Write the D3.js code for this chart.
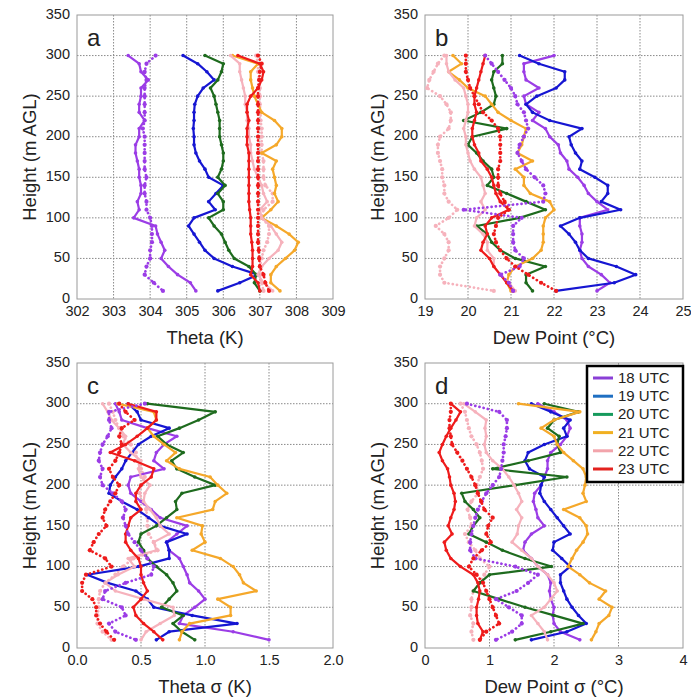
<!DOCTYPE html>
<html>
<head>
<meta charset="utf-8">
<script src="https://cdn.jsdelivr.net/npm/d3@7"></script>
<style>
  body { margin: 0; background: #fff; }
  svg { display: block; }
  text { font-family: "Liberation Sans", Arial, Helvetica, sans-serif; fill: #222; }
</style>
</head>
<body>
<svg id="chart" width="691" height="697"></svg>
<script>
// Measurement heights (m AGL), top to bottom
const heights = [300,290,280,270,260,250,240,230,220,210,200,190,180,170,160,150,140,130,120,110,100,90,80,70,60,50,40,30,20,10];

const timeLabels = ["18 UTC","19 UTC","20 UTC","21 UTC","22 UTC","23 UTC"];
const lineColors = ["#9b3de6","#1616d2","#1e6b1e","#f5a82a","#f6b2bc","#ee1b1b"];
const legendColors = ["#8a3fd6","#1f6fc2","#169a5c","#f1b021","#f2a4ab","#e3221e"];

// Potential temperature (K), solid profiles
const theta18 = [303.4,303.7,303.75,303.95,303.75,303.75,303.7,303.7,303.85,303.7,303.7,303.6,303.6,303.65,303.7,303.7,303.75,303.75,303.65,303.7,303.55,304.15,304.2,304.3,304.4,304.3,304.5,304.75,305.1,305.25];
const theta19 = [304.9,305.3,305.55,305.75,305.45,305.3,305.22,305.2,305.2,305.18,305.2,305.2,305.25,305.35,305.5,305.6,306.0,305.8,305.6,305.78,305.2,305.05,305.2,305.35,305.5,305.75,306.25,306.95,306.45,305.85];
const theta20 = [305.5,306.0,305.95,305.85,305.65,305.75,305.8,305.85,305.9,305.9,305.9,305.95,306.0,306.0,305.95,305.85,306.05,305.85,306.0,306.0,305.6,305.75,305.95,306.05,306.15,306.3,306.7,306.9,306.85,307.0];
const theta21 = [306.25,306.95,306.75,306.75,306.8,306.85,306.95,307.05,307.4,307.6,307.6,307.45,307.05,307.45,307.35,307.4,307.45,307.4,307.5,307.3,307.05,307.45,307.8,308.05,307.95,307.7,307.45,307.3,307.3,307.55];
const theta22 = [306.2,306.45,306.45,306.5,306.55,306.6,306.6,306.65,306.65,306.7,306.7,306.75,306.75,306.8,306.85,306.95,307.05,307.1,307.2,307.0,307.05,307.3,307.45,307.6,307.5,307.25,307.05,306.95,307.1,307.35];
const theta23 = [306.4,307.0,307.1,307.05,306.95,306.75,306.65,306.65,306.7,306.65,306.65,306.65,306.7,306.7,306.7,306.7,306.7,306.7,306.7,306.72,306.75,306.75,306.75,306.78,306.8,306.8,306.8,306.75,306.95,307.0];
// Potential temperature (K), dotted profiles
const theta18d = [304.15,303.9,303.85,303.9,303.85,303.85,303.85,303.85,303.85,303.8,303.85,303.85,303.85,303.85,303.85,303.9,303.85,303.85,303.9,303.9,304.0,304.05,304.05,304.05,304.0,304.0,303.9,303.85,304.1,304.35];
const theta22d = [306.9,306.95,306.95,306.98,307.0,307.0,307.0,307.02,307.02,307.05,307.05,307.05,307.05,307.1,307.1,307.1,307.15,307.35,307.35,307.1,307.05,307.25,307.25,307.2,307.1,307.05,307.0,307.0,307.05,307.1];
const theta23d = [306.95,307.05,307.0,306.98,306.95,306.95,306.95,306.95,306.95,306.95,306.95,306.95,306.95,306.95,306.95,306.95,306.95,306.95,306.95,306.95,306.95,306.95,306.95,306.95,306.97,306.98,307.0,307.1,307.15,307.25];

// Dew point (°C), solid profiles
const dew18 = [22.0,21.3,21.3,21.35,21.65,21.3,21.35,21.65,21.5,21.8,21.9,22.1,22.15,22.3,22.35,22.55,22.7,22.8,23.0,23.25,22.6,22.6,22.65,22.65,22.6,22.65,22.8,23.1,23.3,23.0];
const dew19 = [21.2,21.65,22.25,22.25,22.05,21.6,21.35,21.5,21.9,22.65,22.35,22.4,22.5,22.65,22.6,22.95,23.25,23.25,23.1,23.55,22.6,22.15,22.35,22.5,22.6,22.8,23.45,23.9,23.4,22.05];
const dew20 = [20.8,20.8,20.6,20.55,20.6,20.65,20.6,20.3,19.9,20.9,20.1,20.0,20.2,20.35,20.55,20.6,20.45,20.9,21.35,21.8,21.2,20.2,20.45,20.55,20.75,21.1,21.8,21.35,21.35,21.5];
const dew21 = [19.65,19.85,19.55,19.8,20.0,20.4,20.55,20.7,21.0,21.35,21.3,21.25,21.15,21.5,21.1,21.3,21.3,21.45,21.9,22.0,21.8,21.75,21.75,21.75,21.7,21.5,21.1,20.95,20.9,21.0];
const dew22 = [19.5,19.5,19.55,19.7,19.9,19.95,20.0,20.0,19.95,19.9,19.95,19.95,20.0,20.05,20.15,20.3,20.35,20.4,20.3,20.4,20.2,20.15,20.35,20.45,20.45,20.6,20.6,20.75,20.95,21.1];
const dew23 = [20.4,20.35,20.3,20.25,20.2,20.15,20.15,20.2,20.15,20.1,20.1,20.15,20.25,20.3,20.45,20.55,20.6,20.65,20.75,20.95,20.55,20.4,20.45,20.35,20.3,20.5,20.6,20.75,20.9,21.05];
// Dew point (°C), dotted profiles
const dew18d = [20.4,20.55,20.7,20.85,21.0,21.1,21.15,21.3,21.35,21.4,21.3,21.2,21.15,21.25,21.35,21.55,21.75,21.8,21.75,19.9,21.25,21.05,21.05,21.05,21.1,21.3,21.2,20.75,20.95,21.05];
const dew22d = [19.45,19.3,19.2,19.1,19.05,19.35,19.5,19.6,19.6,19.55,19.35,19.3,19.3,19.35,19.4,19.4,19.45,19.45,19.55,19.75,19.55,19.25,19.45,19.55,19.55,19.45,19.35,19.35,19.45,20.6];
const dew23d = [19.95,19.95,19.95,20.0,20.05,20.15,20.25,20.35,20.55,20.7,20.75,20.75,20.75,20.75,20.7,20.7,20.7,20.75,20.85,20.95,20.7,20.65,20.6,20.65,20.75,20.9,21.1,21.4,21.7,22.05];

// Potential temperature standard deviation (K), solid profiles
const thetaSd18 = [0.3,0.33,0.35,0.55,0.78,0.68,0.62,0.6,0.68,0.42,0.4,0.42,0.5,0.58,0.65,0.86,0.78,0.7,0.72,0.8,0.83,0.86,0.88,0.95,1.0,0.92,0.83,0.8,1.22,1.5];
const thetaSd19 = [0.4,0.47,0.5,0.72,0.58,0.48,0.43,0.38,0.35,0.3,0.26,0.25,0.35,0.47,0.56,0.65,0.86,0.7,0.72,0.72,0.48,0.08,0.24,0.46,0.55,0.6,0.9,1.25,0.72,0.62];
const thetaSd20 = [0.55,1.08,0.95,0.8,0.63,0.7,0.83,0.74,0.78,0.92,1.08,0.82,0.77,0.78,0.7,0.62,0.5,0.48,0.52,0.55,0.62,0.7,0.75,0.78,0.72,0.66,0.83,0.75,0.82,0.92];
const thetaSd21 = [0.32,0.6,0.62,0.55,0.6,0.68,0.77,0.7,0.8,1.04,1.1,1.17,1.08,1.06,0.78,0.98,0.97,1.0,0.9,1.12,1.22,1.27,1.3,1.4,1.1,1.2,1.2,0.88,0.82,0.8];
const thetaSd22 = [0.2,0.24,0.27,0.33,0.38,0.36,0.42,0.5,0.48,0.5,0.57,0.53,0.52,0.57,0.62,0.65,0.72,0.6,0.62,0.4,0.45,0.32,0.22,0.3,0.52,0.75,0.76,0.65,0.54,0.5];
const thetaSd23 = [0.4,0.62,0.62,0.55,0.47,0.38,0.26,0.45,0.6,0.58,0.5,0.46,0.46,0.5,0.42,0.4,0.38,0.38,0.42,0.48,0.5,0.5,0.52,0.55,0.5,0.44,0.46,0.52,0.6,0.67];
// Potential temperature standard deviation (K), dotted profiles
const thetaSd18d = [0.53,0.25,0.25,0.27,0.24,0.2,0.18,0.17,0.2,0.18,0.2,0.28,0.35,0.38,0.36,0.38,0.4,0.45,0.5,0.55,0.6,0.58,0.38,0.22,0.2,0.35,0.38,0.25,0.3,0.46];
const thetaSd22d = [0.25,0.28,0.3,0.33,0.36,0.42,0.46,0.47,0.5,0.53,0.5,0.49,0.51,0.54,0.55,0.55,0.56,0.6,0.63,0.44,0.36,0.3,0.22,0.18,0.17,0.17,0.16,0.16,0.2,0.27];
const thetaSd23d = [0.33,0.38,0.45,0.35,0.33,0.35,0.33,0.3,0.25,0.28,0.33,0.3,0.26,0.22,0.2,0.23,0.17,0.13,0.1,0.22,0.27,0.07,0.04,0.04,0.12,0.15,0.15,0.18,0.23,0.29];

// Dew point standard deviation (°C), solid profiles
const dewSd18 = [1.75,2.0,2.2,2.25,2.2,2.1,1.95,1.9,1.9,1.85,1.8,1.7,1.68,1.72,1.75,1.85,1.65,1.55,1.52,1.65,1.75,1.9,1.95,1.93,1.95,2.0,1.98,2.0,2.1,2.4];
const dewSd19 = [1.65,1.95,2.25,2.15,2.2,1.85,1.6,1.55,1.62,1.85,1.8,1.78,1.85,1.95,2.05,2.15,2.25,2.0,1.98,2.12,2.25,2.1,2.1,2.15,2.2,2.28,2.38,2.5,2.2,1.65];
const dewSd20 = [1.85,2.38,2.0,1.9,2.08,2.05,2.1,1.6,1.05,2.2,1.4,0.57,0.62,0.75,0.85,0.75,0.68,0.95,1.2,1.55,1.96,1.0,0.85,0.75,1.15,1.55,2.0,2.45,1.95,1.4];
const dewSd21 = [1.45,2.4,2.0,1.8,2.0,2.05,2.15,2.3,2.45,2.5,2.48,2.45,2.5,2.15,2.4,2.5,2.52,2.45,2.35,2.28,2.22,2.4,2.55,2.8,2.7,2.9,2.85,2.7,2.65,2.58];
const dewSd22 = [0.6,0.78,0.95,0.93,0.95,0.92,0.95,1.05,1.2,1.3,1.38,1.45,1.5,1.42,1.5,1.45,1.43,1.35,1.5,1.65,1.75,1.9,2.0,2.05,1.95,1.85,1.65,1.75,1.85,1.9];
const dewSd23 = [0.4,0.55,0.48,0.4,0.33,0.27,0.22,0.27,0.35,0.38,0.4,0.45,0.47,0.45,0.4,0.36,0.42,0.3,0.33,0.4,0.55,0.75,0.82,0.85,0.83,0.8,0.8,0.82,0.9,0.85];
// Dew point standard deviation (°C), dotted profiles
const dewSd18d = [0.65,1.15,1.27,1.27,1.25,1.22,1.22,1.2,1.18,1.15,1.05,0.95,0.88,0.82,0.78,0.75,0.72,0.7,0.7,0.78,1.4,1.75,1.6,1.42,1.1,1.3,1.5,1.5,1.35,1.1];
const dewSd22d = [0.55,0.62,0.65,0.68,0.72,0.8,0.85,0.88,0.9,0.85,0.8,0.82,0.72,0.66,0.7,0.72,0.62,0.68,0.78,0.85,1.0,0.92,0.85,0.75,0.72,0.72,0.7,0.75,0.72,0.75];
const dewSd23d = [0.4,0.4,0.38,0.38,0.4,0.42,0.5,0.58,0.65,0.72,0.78,0.82,0.87,0.92,1.05,0.98,0.95,1.02,0.88,0.75,0.68,0.8,0.9,0.95,1.0,1.05,1.1,1.15,0.95,0.85];

// Axis ticks
const heightTicks = [0,50,100,150,200,250,300,350];
const thetaTicks = [302,303,304,305,306,307,308,309];
const dewTicks = [19,20,21,22,23,24,25];
const thetaSdTicks = [0,0.5,1.0,1.5,2.0];
const dewSdTicks = [0,1,2,3,4];

const panels = [
  { letter:"a", x0:77,  x1:333, y0:15,  y1:299, domain:[302,309], ticks:thetaTicks,   fmt:d3.format("d"),   title:"Theta (K)",
    solid:[theta18,theta19,theta20,theta21,theta22,theta23], dotted:[theta18d,theta22d,theta23d] },
  { letter:"b", x0:425, x1:683, y0:15,  y1:299, domain:[19,25],   ticks:dewTicks,     fmt:d3.format("d"),   title:"Dew Point (°C)",
    solid:[dew18,dew19,dew20,dew21,dew22,dew23], dotted:[dew18d,dew22d,dew23d] },
  { letter:"c", x0:77,  x1:333, y0:363, y1:648, domain:[0,2],     ticks:thetaSdTicks, fmt:d3.format(".1f"), title:"Theta σ (K)",
    solid:[thetaSd18,thetaSd19,thetaSd20,thetaSd21,thetaSd22,thetaSd23], dotted:[thetaSd18d,thetaSd22d,thetaSd23d] },
  { letter:"d", x0:425, x1:683, y0:363, y1:648, domain:[0,4],     ticks:dewSdTicks,   fmt:d3.format("d"),   title:"Dew Point σ (°C)",
    solid:[dewSd18,dewSd19,dewSd20,dewSd21,dewSd22,dewSd23], dotted:[dewSd18d,dewSd22d,dewSd23d] }
];

const svg = d3.select("#chart");

panels.forEach(p => {
  const x = d3.scaleLinear().domain(p.domain).range([p.x0, p.x1]);
  const y = d3.scaleLinear().domain([0, 350]).range([p.y1, p.y0]);
  const g = svg.append("g");

  // dotted grid
  g.append("g").selectAll("line").data(p.ticks.slice(1, -1)).join("line")
    .attr("x1", d => x(d)).attr("x2", d => x(d)).attr("y1", p.y0).attr("y2", p.y1)
    .attr("stroke", "#8a8a8a").attr("stroke-width", 1).attr("stroke-dasharray", "1.5,1.5");
  g.append("g").selectAll("line").data(heightTicks.slice(1, -1)).join("line")
    .attr("x1", p.x0).attr("x2", p.x1).attr("y1", d => y(d)).attr("y2", d => y(d))
    .attr("stroke", "#8a8a8a").attr("stroke-width", 1).attr("stroke-dasharray", "1.5,1.5");

  // axes (labels only)
  const xa = g.append("g").attr("transform", `translate(0,${p.y1})`)
    .call(d3.axisBottom(x).tickValues(p.ticks).tickFormat(p.fmt).tickSize(0).tickPadding(7));
  const ya = g.append("g").attr("transform", `translate(${p.x0},0)`)
    .call(d3.axisLeft(y).tickValues(heightTicks).tickSize(0).tickPadding(7));
  [xa, ya].forEach(a => {
    a.select(".domain").remove();
    a.selectAll("text").attr("font-size", 14.5).attr("fill", "#222")
      .attr("font-family", "'Liberation Sans', Arial, sans-serif");
  });
  ya.selectAll("text").attr("dy", "0.22em");

  // frame
  g.append("rect").attr("x", p.x0).attr("y", p.y0)
    .attr("width", p.x1 - p.x0).attr("height", p.y1 - p.y0)
    .attr("fill", "none").attr("stroke", "#9a9a9a").attr("stroke-width", 1);

  const line = d3.line().x(d => x(d[0])).y(d => y(d[1]));
  const clipId = "clip-" + p.letter;
  g.append("clipPath").attr("id", clipId).append("rect")
    .attr("x", p.x0).attr("y", p.y0).attr("width", p.x1 - p.x0).attr("height", p.y1 - p.y0);
  const plot = g.append("g").attr("clip-path", `url(#${clipId})`);

  const drawProfile = (vals, color, dotted) => {
    const pts = vals.map((v, i) => [v, heights[i]]);
    plot.append("path").datum(pts).attr("d", line).attr("fill", "none")
      .attr("stroke", color).attr("stroke-width", dotted ? 2.7 : 2.2)
      .attr("stroke-linejoin", "round").attr("stroke-linecap", "round")
      .attr("stroke-dasharray", dotted ? "0.1,4.2" : null);
    plot.append("g").selectAll("circle").data(pts).join("circle")
      .attr("cx", d => x(d[0])).attr("cy", d => y(d[1]))
      .attr("r", dotted ? 2.1 : 1.8).attr("fill", color);
  };

  // dotted 22 UTC underneath, then solids, then remaining dotted
  drawProfile(p.dotted[1], lineColors[4], true);
  p.solid.forEach((vals, i) => drawProfile(vals, lineColors[i], false));
  drawProfile(p.dotted[0], lineColors[0], true);
  drawProfile(p.dotted[2], lineColors[5], true);

  // panel letter
  g.append("text").attr("x", p.x0 + 10).attr("y", p.y0 + 31)
    .attr("font-size", 24).text(p.letter);

  // axis titles
  g.append("text").attr("x", (p.x0 + p.x1) / 2).attr("y", p.y1 + 45)
    .attr("text-anchor", "middle").attr("font-size", 18.5).text(p.title);
  g.append("text")
    .attr("transform", `translate(${p.x0 - 41},${(p.y0 + p.y1) / 2}) rotate(-90)`)
    .attr("text-anchor", "middle").attr("font-size", 18.5).text("Height (m AGL)");
});

// legend in panel d
const lg = svg.append("g").attr("transform", "translate(587,366)");
lg.append("rect").attr("width", 96).attr("height", 116)
  .attr("fill", "#fff").attr("stroke", "#000").attr("stroke-width", 2.5);
timeLabels.forEach((t, i) => {
  const yy = 12 + i * 18.2;
  lg.append("line").attr("x1", 6).attr("x2", 26).attr("y1", yy).attr("y2", yy)
    .attr("stroke", legendColors[i]).attr("stroke-width", 3);
  lg.append("text").attr("x", 31).attr("y", yy + 5).attr("font-size", 15).text(t);
});
</script>
</body>
</html>
